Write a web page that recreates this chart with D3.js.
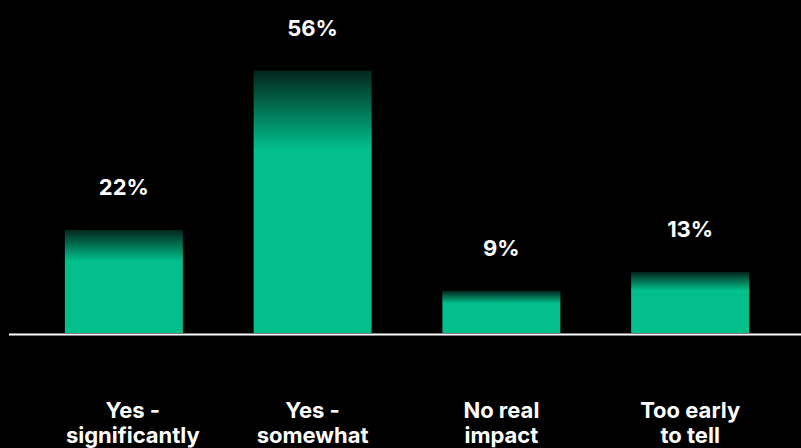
<!DOCTYPE html>
<html><head><meta charset="utf-8">
<script src="https://cdn.jsdelivr.net/npm/d3@7"></script>
<style>html,body{margin:0;padding:0;background:#000;}svg{display:block;}</style>
</head><body>
<script>
const categories = [["Yes -","significantly"],["Yes -","somewhat"],["No real","impact"],["Too early","to tell"]];
const values = [22, 56, 9, 13];
const valueLabels = ["22%","56%","9%","13%"];

const W = 801, H = 448;
const svg = d3.select("body").append("svg").attr("width", W).attr("height", H);
svg.append("rect").attr("width", W).attr("height", H).attr("fill", "#000");

const defs = svg.append("defs");
const grad = defs.append("linearGradient").attr("id","g").attr("x1",0).attr("y1",0).attr("x2",0).attr("y2",1);
grad.append("stop").attr("offset","0%").attr("stop-color","#03271c");
grad.append("stop").attr("offset","30%").attr("stop-color","#02bf8c");
grad.append("stop").attr("offset","100%").attr("stop-color","#02bf8c");

const x = d3.scaleBand().domain(d3.range(values.length)).range([29, 785]).paddingInner(0.375).paddingOuter(0.19);
const y = d3.scaleLinear().domain([0, 60]).range([333, 52]);

svg.selectAll("rect.bar").data(values).join("rect").attr("class","bar")
  .attr("x",(d,i)=>x(i)).attr("width",x.bandwidth())
  .attr("y",d=>y(d)).attr("height",d=>y(0)-y(d)).attr("fill","url(#g)");

svg.append("line").attr("x1",9).attr("x2",W).attr("y1",334.5).attr("y2",334.5)
  .attr("stroke","#fff").attr("stroke-width",2);

const font = "Inter, 'Noto Sans', sans-serif";
svg.selectAll("text.val").data(values).join("text").attr("class","val")
  .attr("x",(d,i)=>x(i)+x.bandwidth()/2).attr("y",d=>y(d)-35)
  .attr("text-anchor","middle").attr("fill","#fff").attr("font-family",font)
  .attr("font-weight",700).attr("font-size",22).text((d,i)=>valueLabels[i]);

const cat = svg.selectAll("text.cat").data(categories).join("text").attr("class","cat")
  .attr("text-anchor","middle").attr("fill","#fff").attr("font-family",font)
  .attr("font-weight",700).attr("font-size",22);
cat.each(function(d,i){
  const t = d3.select(this);
  d.forEach((line,j)=>{
    t.append("tspan").attr("x", x(i)+x.bandwidth()/2 + (i===0?9:0)).attr("y", 418 + j*25).text(line);
  });
});
</script>
</body></html>
